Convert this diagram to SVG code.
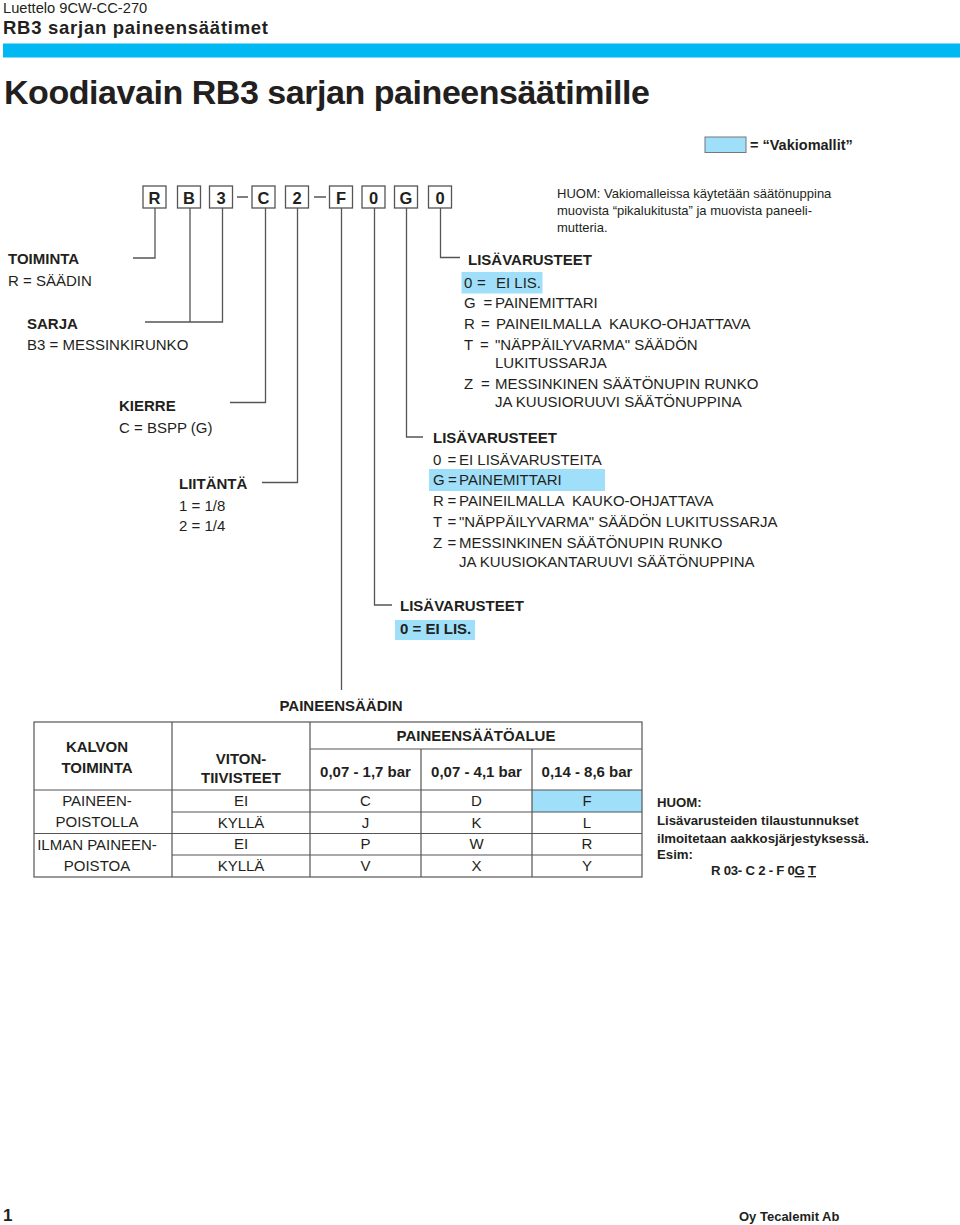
<svg xmlns="http://www.w3.org/2000/svg" width="960" height="1225" viewBox="0 0 960 1225">
<style>
text{font-family:"Liberation Sans",Arial,Helvetica,sans-serif;fill:#231f20}
.r15{font-size:15px}
.b15{font-size:15px;font-weight:bold}
.bx{font-size:16.5px;font-weight:bold;text-anchor:middle}
.r13{font-size:13px}
.b13{font-size:13.2px;font-weight:bold}
.c{text-anchor:middle}
.box{fill:#fff;stroke:#555;stroke-width:1.3}
.ln{fill:none;stroke:#555;stroke-width:1.3}
.hl{fill:#a0dff9}
.tb{fill:none;stroke:#555;stroke-width:1.2}
</style>
<rect width="960" height="1225" fill="#fff"/>
<g id="header">
<text x="3" y="13" style="font-size:14.7px">Luettelo 9CW-CC-270</text>
<text x="3" y="34" textLength="265" style="font-size:18.5px;font-weight:bold">RB3 sarjan paineensäätimet</text>
<rect x="3" y="43.5" width="957" height="14" fill="#00b9f2"/>
<text x="4" y="104" textLength="646" style="font-size:34px;font-weight:bold">Koodiavain RB3 sarjan paineensäätimille</text>
</g>
<g id="legend">
<rect x="705" y="137" width="41" height="15.5" fill="#a0dff9" stroke="#777" stroke-width="1"/>
<text x="750" y="150" style="font-size:14.5px;font-weight:bold">= “Vakiomallit”</text>
</g>
<g id="note-top" class="r13">
<text x="557" y="198">HUOM: Vakiomalleissa käytetään säätönuppina</text>
<text x="557" y="215">muovista “pikalukitusta” ja muovista paneeli-</text>
<text x="557" y="232">mutteria.</text>
</g>
<g id="code">
<g id="code-R"><rect class="box" x="143" y="186" width="23" height="22"/><text class="bx" x="154.5" y="203.5">R</text></g>
<g id="code-B"><rect class="box" x="177.5" y="186" width="23" height="22"/><text class="bx" x="189" y="203.5">B</text></g>
<g id="code-3"><rect class="box" x="209.5" y="186" width="23" height="22"/><text class="bx" x="221" y="203.5">3</text></g>
<g id="code-C"><rect class="box" x="252" y="186" width="23" height="22"/><text class="bx" x="263.5" y="203.5">C</text></g>
<g id="code-2"><rect class="box" x="285.5" y="186" width="23" height="22"/><text class="bx" x="297" y="203.5">2</text></g>
<g id="code-F"><rect class="box" x="329.5" y="186" width="23" height="22"/><text class="bx" x="341" y="203.5">F</text></g>
<g id="code-0a"><rect class="box" x="362" y="186" width="23" height="22"/><text class="bx" x="373.5" y="203.5">0</text></g>
<g id="code-G"><rect class="box" x="394.5" y="186" width="23" height="22"/><text class="bx" x="406" y="203.5">G</text></g>
<g id="code-0b"><rect class="box" x="428.5" y="186" width="23" height="22"/><text class="bx" x="440" y="203.5">0</text></g>
</g>
<g id="connectors" class="ln">
<path d="M237 197H248M314 197H326"/>
<path d="M155 208V258H133"/>
<path d="M190 208V322H145M222.5 208V322H190"/>
<path d="M265.5 208V402.5H230"/>
<path d="M297.5 208V482.5H262"/>
<path d="M341.5 208V690"/>
<path d="M374.5 208V605H392"/>
<path d="M406.5 208V437H423"/>
<path d="M440.5 208V257.5H460"/>
</g>
<g id="toiminta">
<text class="b15" x="8" y="264">TOIMINTA</text>
<text class="r15" x="8" y="286">R = SÄÄDIN</text>
</g>
<g id="sarja">
<text class="b15" x="27" y="329">SARJA</text>
<text class="r15" x="27" y="350">B3 = MESSINKIRUNKO</text>
</g>
<g id="kierre">
<text class="b15" x="119" y="411">KIERRE</text>
<text class="r15" x="119" y="433">C = BSPP (G)</text>
</g>
<g id="liitanta">
<text class="b15" x="179" y="489">LIITÄNTÄ</text>
<text class="r15" x="179" y="511">1 = 1/8</text>
<text class="r15" x="179" y="531">2 = 1/4</text>
</g>
<g id="lisavarusteet-1">
<text class="b15" x="468" y="265">LISÄVARUSTEET</text>
<rect class="hl" x="461.5" y="272" width="81" height="21.5"/>
<text class="r15" y="288"><tspan x="464">0</tspan><tspan x="477">=</tspan><tspan x="496">EI LIS.</tspan></text>
<text class="r15" y="308"><tspan x="464">G</tspan><tspan x="483.5">=</tspan><tspan x="495">PAINEMITTARI</tspan></text>
<text class="r15" y="329" xml:space="preserve"><tspan x="464">R</tspan><tspan x="481">=</tspan><tspan x="496">PAINEILMALLA  KAUKO-OHJATTAVA</tspan></text>
<text class="r15" y="350"><tspan x="464">T</tspan><tspan x="480">=</tspan><tspan x="495">"NÄPPÄILYVARMA" SÄÄDÖN</tspan></text>
<text class="r15" x="495" y="368">LUKITUSSARJA</text>
<text class="r15" y="389"><tspan x="464">Z</tspan><tspan x="481">=</tspan><tspan x="495">MESSINKINEN SÄÄTÖNUPIN RUNKO</tspan></text>
<text class="r15" x="495" y="407">JA KUUSIORUUVI SÄÄTÖNUPPINA</text>
</g>
<g id="lisavarusteet-2">
<text class="b15" x="433" y="443">LISÄVARUSTEET</text>
<text class="r15" y="465"><tspan x="433">0</tspan><tspan x="447.5">=</tspan><tspan x="459">EI LISÄVARUSTEITA</tspan></text>
<rect class="hl" x="429" y="469" width="176" height="22"/>
<text class="r15" y="485"><tspan x="433">G</tspan><tspan x="448">=</tspan><tspan x="459">PAINEMITTARI</tspan></text>
<text class="r15" y="506" xml:space="preserve"><tspan x="433">R</tspan><tspan x="447.5">=</tspan><tspan x="459">PAINEILMALLA  KAUKO-OHJATTAVA</tspan></text>
<text class="r15" y="527"><tspan x="433">T</tspan><tspan x="447.5">=</tspan><tspan x="459">"NÄPPÄILYVARMA" SÄÄDÖN LUKITUSSARJA</tspan></text>
<text class="r15" y="548"><tspan x="433">Z</tspan><tspan x="447.5">=</tspan><tspan x="459">MESSINKINEN SÄÄTÖNUPIN RUNKO</tspan></text>
<text class="r15" x="459" y="567">JA KUUSIOKANTARUUVI SÄÄTÖNUPPINA</text>
</g>
<g id="lisavarusteet-3">
<text class="b15" x="400" y="611">LISÄVARUSTEET</text>
<rect class="hl" x="395" y="620" width="80" height="20"/>
<text class="b15" x="400" y="634">0 = EI LIS.</text>
</g>
<g id="paineensaadin">
<text class="b15 c" x="341" y="711">PAINEENSÄÄDIN</text>
<rect class="hl" x="532" y="790" width="110" height="22"/>
<rect class="tb" x="34" y="722" width="608" height="155"/>
<path class="tb" d="M172 722V877M310 722V877M421 749V877M532 749V877M310 749H642M34 790H642M172 812H642M34 833.5H642M172 855H642"/>
<text class="b15 c" x="97" y="752">KALVON</text>
<text class="b15 c" x="97" y="773">TOIMINTA</text>
<text class="b15 c" x="241" y="764">VITON-</text>
<text class="b15 c" x="241" y="783">TIIVISTEET</text>
<text class="b15 c" x="476" y="741">PAINEENSÄÄTÖALUE</text>
<text class="b15 c" x="365.5" y="777">0,07 - 1,7 bar</text>
<text class="b15 c" x="476.5" y="777">0,07 - 4,1 bar</text>
<text class="b15 c" x="587" y="777">0,14 - 8,6 bar</text>
<text class="r15 c" x="97" y="806">PAINEEN-</text>
<text class="r15 c" x="97" y="827">POISTOLLA</text>
<text class="r15 c" x="97" y="850">ILMAN PAINEEN-</text>
<text class="r15 c" x="97" y="871">POISTOA</text>
<text class="r15 c" x="241" y="806">EI</text>
<text class="r15 c" x="241" y="828">KYLLÄ</text>
<text class="r15 c" x="241" y="849">EI</text>
<text class="r15 c" x="241" y="871">KYLLÄ</text>
<text class="r15 c" x="365.5" y="806">C</text>
<text class="r15 c" x="365.5" y="828">J</text>
<text class="r15 c" x="365.5" y="849">P</text>
<text class="r15 c" x="365.5" y="871">V</text>
<text class="r15 c" x="476.5" y="806">D</text>
<text class="r15 c" x="476.5" y="828">K</text>
<text class="r15 c" x="476.5" y="849">W</text>
<text class="r15 c" x="476.5" y="871">X</text>
<text class="r15 c" x="587" y="806">F</text>
<text class="r15 c" x="587" y="828">L</text>
<text class="r15 c" x="587" y="849">R</text>
<text class="r15 c" x="587" y="871">Y</text>
</g>
<g id="note-bottom" class="b13">
<text x="657" y="807">HUOM:</text>
<text x="657" y="825">Lisävarusteiden tilaustunnukset</text>
<text x="657" y="843">ilmoitetaan aakkosjärjestyksessä.</text>
<text x="657" y="859">Esim:</text>
<text x="711" y="875" textLength="105">R 03- C 2 - F 0<tspan text-decoration="underline">G</tspan> <tspan text-decoration="underline">T</tspan></text>
</g>
<g id="footer">
<text x="3" y="1221" style="font-size:17px;font-weight:bold">1</text>
<text x="739" y="1221" style="font-size:13px;font-weight:bold">Oy Tecalemit Ab</text>
</g>
</svg>
